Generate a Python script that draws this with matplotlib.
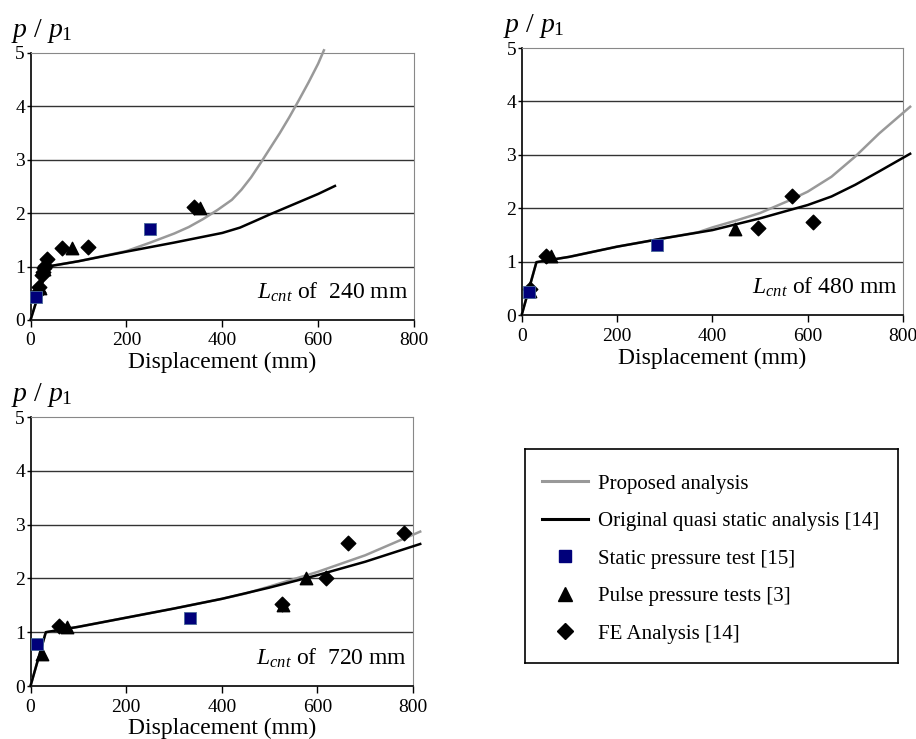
import matplotlib
matplotlib.use("Agg")
import matplotlib.pyplot as plt
from matplotlib.lines import Line2D

plt.rcParams['font.family'] = ['Liberation Serif', 'DejaVu Serif']
plt.rcParams['mathtext.fontset'] = 'custom'
plt.rcParams['mathtext.rm'] = 'Liberation Serif'
plt.rcParams['mathtext.it'] = 'Liberation Serif:italic'

GRAY = '#999999'
NAVY = '#00007a'

# ---- L_cnt = 240 mm ----
p240_x = [0, 35, 100, 200, 300, 400, 437, 470, 500, 550, 600, 635]
p240_orig = [0, 1.0, 1.1, 1.28, 1.45, 1.63, 1.73, 1.86, 1.98, 2.17, 2.36, 2.51]
p240_prop_x = [0, 35, 100, 200, 250, 300, 330, 360, 390, 420, 440, 460, 480,
               500, 520, 540, 560, 580, 600, 612]
p240_prop = [0, 1.0, 1.1, 1.29, 1.45, 1.62, 1.74, 1.89, 2.06, 2.25, 2.44, 2.67, 2.94,
             3.22, 3.5, 3.8, 4.12, 4.45, 4.8, 5.05]
s240_x = [11, 250]
s240_y = [0.43, 1.71]
t240_x = [20, 28, 87, 353]
t240_y = [0.6, 0.95, 1.34, 2.09]
d240_x = [15, 18, 25, 27, 29, 30, 34, 65, 119, 340]
d240_y = [0.53, 0.62, 0.85, 0.9, 0.97, 1.02, 1.15, 1.34, 1.37, 2.12]

# ---- L_cnt = 480 mm ----
p480_x = [0, 31, 100, 200, 300, 400, 500, 600, 650, 700, 750, 815]
p480_orig = [0, 0.99, 1.09, 1.28, 1.44, 1.59, 1.81, 2.06, 2.22, 2.44, 2.69, 3.02]
p480_prop_x = [0, 31, 100, 200, 300, 370, 400, 450, 500, 560, 600, 650, 700, 750, 815]
p480_prop = [0, 0.99, 1.09, 1.28, 1.44, 1.55, 1.64, 1.77, 1.91, 2.14, 2.31, 2.59,
             2.97, 3.4, 3.9]
s480_x = [15, 283]
s480_y = [0.43, 1.31]
t480_x = [18, 62, 447]
t480_y = [0.45, 1.1, 1.61]
d480_x = [18, 52, 496, 567, 611]
d480_y = [0.49, 1.11, 1.63, 2.22, 1.75]

# ---- L_cnt = 720 mm ----
p720_x = [0, 32, 100, 200, 300, 400, 500, 600, 700, 815]
p720_orig = [0, 1.0, 1.1, 1.27, 1.44, 1.62, 1.83, 2.06, 2.31, 2.64]
p720_prop_x = [0, 32, 100, 200, 300, 400, 450, 500, 600, 700, 815]
p720_prop = [0, 1.0, 1.1, 1.27, 1.44, 1.62, 1.72, 1.85, 2.12, 2.43, 2.87]
s720_x = [14, 333]
s720_y = [0.79, 1.27]
t720_x = [24, 77, 528, 577]
t720_y = [0.59, 1.09, 1.5, 2.0]
d720_x = [60, 525, 617, 663, 782]
d720_y = [1.11, 1.53, 2.0, 2.65, 2.85]

panels = [
    ([0.0333, 0.5670, 0.4187, 0.3613], p240_x, p240_orig, p240_prop_x, p240_prop,
     s240_x, s240_y, t240_x, t240_y, d240_x, d240_y, r'$L_{cnt}$ of  240 mm'),
    ([0.5695, 0.5737, 0.4163, 0.3613], p480_x, p480_orig, p480_prop_x, p480_prop,
     s480_x, s480_y, t480_x, t480_y, d480_x, d480_y, r'$L_{cnt}$ of 480 mm'),
    ([0.0333, 0.0717, 0.4176, 0.3640], p720_x, p720_orig, p720_prop_x, p720_prop,
     s720_x, s720_y, t720_x, t720_y, d720_x, d720_y, r'$L_{cnt}$ of  720 mm'),
]

fig = plt.figure(figsize=(9.16, 7.39), dpi=100)

for (rect, ox, oy, px, py, sx, sy, tx, ty, dx, dy, lab) in panels:
    ax = fig.add_axes(rect)
    ax.set_xlim(0, 800)
    ax.set_ylim(0, 5)
    for yv in [1, 2, 3, 4]:
        ax.axhline(yv, color='#333333', lw=1.0, zorder=1)
    ax.plot(px, py, color=GRAY, lw=1.8, zorder=3, clip_on=False)
    ax.plot(ox, oy, color='black', lw=1.8, zorder=4, clip_on=False)
    ax.scatter(dx, dy, marker='D', s=55, color='black', zorder=5, clip_on=False)
    ax.scatter(tx, ty, marker='^', s=80, color='black', zorder=5, clip_on=False)
    ax.scatter(sx, sy, marker='s', s=70, color=NAVY, edgecolors='#4a6a9a',
               linewidths=0.6, zorder=6, clip_on=False)
    ax.set_xticks([0, 200, 400, 600, 800])
    ax.set_yticks([0, 1, 2, 3, 4, 5])
    ax.tick_params(axis='x', direction='out', length=5, width=1, labelsize=14, pad=4)
    ax.tick_params(axis='y', direction='out', length=3, width=1, labelsize=14, pad=1)
    for side in ['top', 'right']:
        ax.spines[side].set_color('#888888')
    for side in ['left', 'bottom']:
        ax.spines[side].set_color('black')
        ax.spines[side].set_linewidth(1.2)
    ax.set_xlabel('Displacement (mm)', fontsize=17, labelpad=2)
    ax.text(0.985, 0.06, lab, transform=ax.transAxes, ha='right', va='bottom', fontsize=17)
    ax.text(-0.05, 1.03, r'$p$ / $p_1$', transform=ax.transAxes, ha='left',
            va='bottom', fontsize=20)

# legend box
lax = fig.add_axes([0.5731, 0.1028, 0.4072, 0.2896])
lax.set_xticks([])
lax.set_yticks([])
for s in lax.spines.values():
    s.set_color('black')
    s.set_linewidth(1.2)
handles = [
    Line2D([], [], color=GRAY, lw=2.2),
    Line2D([], [], color='black', lw=2.2),
    Line2D([], [], marker='s', ls='none', color=NAVY, markersize=9),
    Line2D([], [], marker='^', ls='none', color='black', markersize=10),
    Line2D([], [], marker='D', ls='none', color='black', markersize=8),
]
labels = ['Proposed analysis', 'Original quasi static analysis [14]',
          'Static pressure test [15]', 'Pulse pressure tests [3]', 'FE Analysis [14]']
lax.legend(handles, labels, loc='upper left', bbox_to_anchor=(-0.005, 0.97),
           frameon=False, fontsize=15, handlelength=2.2, handletextpad=0.5,
           labelspacing=0.86)

fig.savefig('out.png', dpi=100)
